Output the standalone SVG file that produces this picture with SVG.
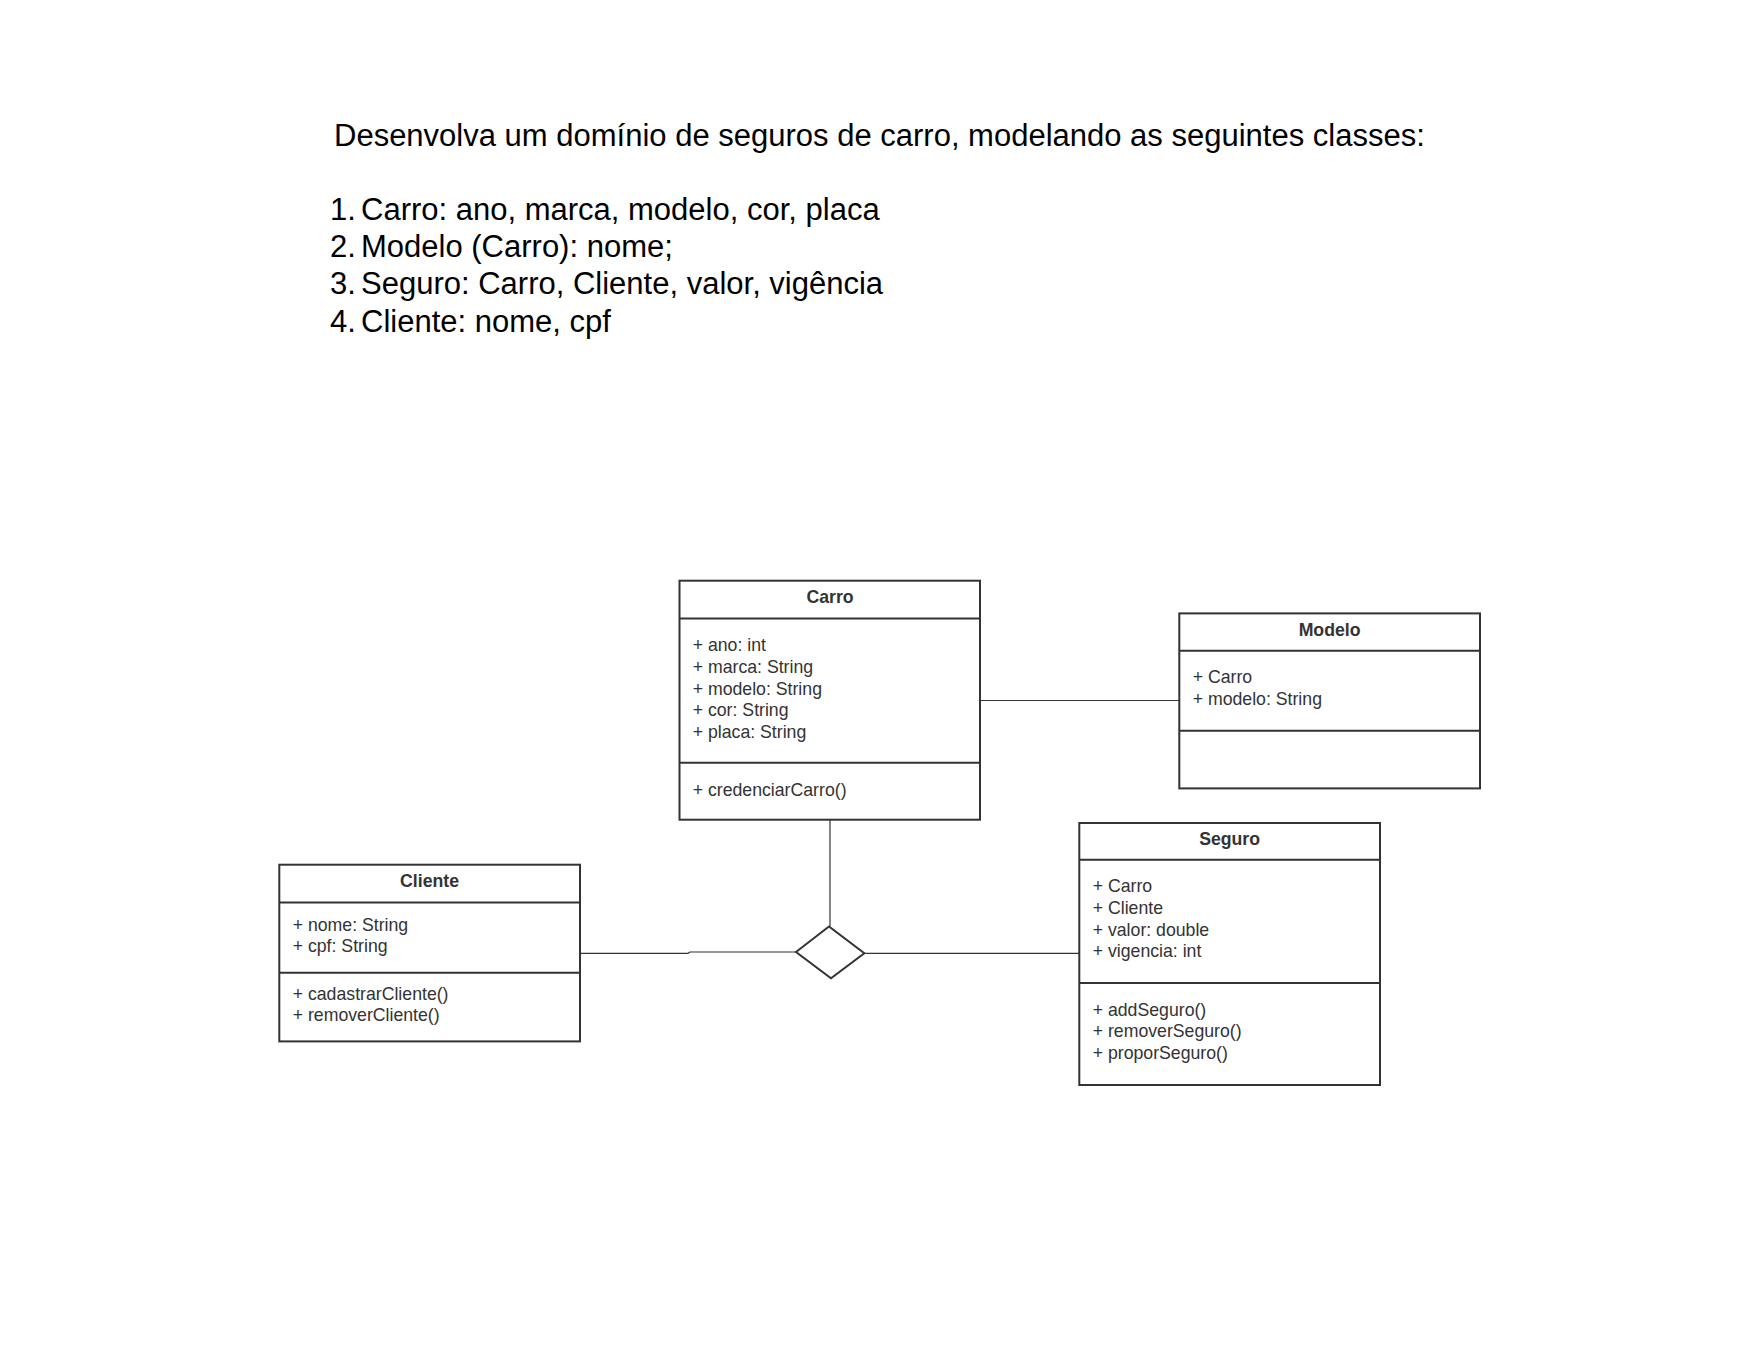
<svg xmlns="http://www.w3.org/2000/svg" width="1760" height="1360" viewBox="0 0 1760 1360">
<style>
.box{fill:#ffffff;stroke:#333333;stroke-width:2}
.sep{stroke:#333333;stroke-width:2;fill:none}
.hd{font-family:"Liberation Sans",Arial,sans-serif;font-size:17.7px;font-weight:bold;fill:#333333;text-anchor:middle}
.tx{font-family:"Liberation Sans",Arial,sans-serif;font-size:17.7px;fill:#333333}
.big{font-family:"Liberation Sans",Arial,sans-serif;font-size:31px;fill:#000000}
.ln{stroke:#333333;stroke-width:1.2;fill:none}
.dm{fill:#ffffff;stroke:#333333;stroke-width:2}
</style>
<rect width="1760" height="1360" fill="#ffffff"/>
<g id="statement">
<text class="big" x="334" y="146">Desenvolva um domínio de seguros de carro, modelando as seguintes classes:</text>
<text class="big" x="330" y="220">1.</text><text class="big" x="361" y="220">Carro: ano, marca, modelo, cor, placa</text>
<text class="big" x="330" y="257">2.</text><text class="big" x="361" y="257">Modelo (Carro): nome;</text>
<text class="big" x="330" y="294">3.</text><text class="big" x="361" y="294">Seguro: Carro, Cliente, valor, vigência</text>
<text class="big" x="330" y="332">4.</text><text class="big" x="361" y="332">Cliente: nome, cpf</text>
</g>
<g id="connectors">
<path class="ln" d="M980 700.5 H1179"/>
<path class="ln" d="M830 820 V926.5"/>
<path class="ln" d="M581 953.3 H688 L690 952 H796"/>
<path class="ln" d="M864 953.3 H1079"/>
</g>
<g id="carro">
<rect class="box" x="679.5" y="580.7" width="300.5" height="239"/>
<path class="sep" d="M679.5 618.4 H980 M679.5 762.7 H980"/>
<text class="hd" x="830" y="603">Carro</text>
<text class="tx" x="692.7" y="651.3">+ ano: int</text>
<text class="tx" x="692.7" y="672.9">+ marca: String</text>
<text class="tx" x="692.7" y="694.5">+ modelo: String</text>
<text class="tx" x="692.7" y="716.1">+ cor: String</text>
<text class="tx" x="692.7" y="737.7">+ placa: String</text>
<text class="tx" x="692.7" y="796">+ credenciarCarro()</text>
</g>
<g id="modelo">
<rect class="box" x="1179.3" y="613.4" width="300.7" height="175"/>
<path class="sep" d="M1179.3 650.7 H1480 M1179.3 730.7 H1480"/>
<text class="hd" x="1329.6" y="635.5">Modelo</text>
<text class="tx" x="1192.7" y="683">+ Carro</text>
<text class="tx" x="1192.7" y="704.6">+ modelo: String</text>
</g>
<g id="cliente">
<rect class="box" x="279.3" y="864.7" width="300.7" height="176.7"/>
<path class="sep" d="M279.3 902.4 H580 M279.3 972.7 H580"/>
<text class="hd" x="429.6" y="887.2">Cliente</text>
<text class="tx" x="292.7" y="930.5">+ nome: String</text>
<text class="tx" x="292.7" y="952.2">+ cpf: String</text>
<text class="tx" x="292.7" y="999.6">+ cadastrarCliente()</text>
<text class="tx" x="292.7" y="1021.3">+ removerCliente()</text>
</g>
<g id="seguro">
<rect class="box" x="1079.3" y="823" width="300.7" height="262"/>
<path class="sep" d="M1079.3 859.7 H1380 M1079.3 983 H1380"/>
<text class="hd" x="1229.6" y="844.8">Seguro</text>
<text class="tx" x="1092.7" y="892.2">+ Carro</text>
<text class="tx" x="1092.7" y="913.8">+ Cliente</text>
<text class="tx" x="1092.7" y="935.5">+ valor: double</text>
<text class="tx" x="1092.7" y="957.2">+ vigencia: int</text>
<text class="tx" x="1092.7" y="1015.5">+ addSeguro()</text>
<text class="tx" x="1092.7" y="1037.1">+ removerSeguro()</text>
<text class="tx" x="1092.7" y="1058.7">+ proporSeguro()</text>
</g>
<g id="diamond">
<polygon class="dm" points="796,952 829,926.5 864.3,953.3 831,978.3"/>
</g>
</svg>
